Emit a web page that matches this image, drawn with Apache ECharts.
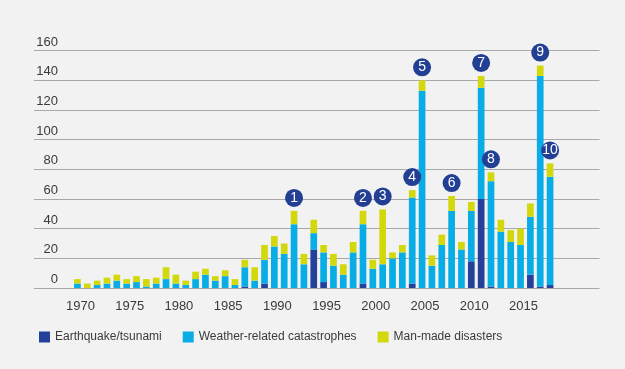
<!DOCTYPE html>
<html>
<head>
<meta charset="utf-8">
<script src="https://cdn.jsdelivr.net/npm/echarts@6/dist/echarts.min.js"></script>
<style>
html,body{margin:0;padding:0;background:#ffffff;}
#c{position:absolute;left:0;top:0;width:625px;height:369px;}
</style>
</head>
<body>
<div id="c"></div>
<script>
var years = [];
for (var y = 1970; y <= 2018; y++) years.push(String(y));

var quake = [0,0,0,0,0,0,0,0,0,0, 0,0,0,0,0,0,0,1,0,3, 0,0,0,0,26,4,0,0,0,3, 0,0,0,0,3,0,0,0,0,0, 18,60,1,0,0,0,9,1,2];
var weather = [3,0,2,3,5,3,4,1,3,6, 3,2,6,9,5,8,2,13,5,16, 28,23,43,16,11,20,15,9,24,40, 13,16,20,24,58,133,15,29,52,26, 34,75,71,38,31,29,39,142,73];
var manmade = [3,3,3,4,4,3,4,5,4,8, 6,3,5,4,3,4,4,5,9,10, 7,7,9,7,9,5,8,7,7,9, 6,37,4,5,5,7,7,7,10,5, 6,8,6,8,8,11,9,7,9];

var eventYears = ['1992','1999','2001','2004','2005','2008','2011','2012','2017','2018'];
var eventNumbers = ['1','2','3','4','5','6','7','8','9','10'];

var yTicks = [0,20,40,60,80,100,120,140,160];

var FONT = '"Liberation Sans", Arial, Helvetica, sans-serif';
var chart = echarts.init(document.getElementById('c'), null, {renderer:'canvas'});

var option = {
  backgroundColor: '#f2f2f2',
  animation: false,
  textStyle: {fontFamily: FONT},
  grid: [
    {left: 72.5, right: 70, top: 50.7, bottom: 81},
    {left: 34, right: 25.5, top: 50.7, bottom: 81}
  ],
  legend: {
    left: 34, top: 326,
    itemWidth: 11, itemHeight: 11, itemGap: 21,
    icon: 'rect',
    textStyle: {fontSize: 12, color: '#3a3a3a', fontFamily: FONT},
    data: ['Earthquake/tsunami','Weather-related catastrophes','Man-made disasters']
  },
  xAxis: [
    {
      type: 'category', gridIndex: 0, data: years,
      axisLine: {show: false}, axisTick: {show: false},
      axisLabel: {
        interval: function (i, v) { return Number(v) % 5 === 0; },
        margin: 12, fontSize: 13, color: '#3a3a3a', fontFamily: FONT,
        padding: [0,0,0,6]
      },
      splitLine: {show: false}
    },
    {
      type: 'value', gridIndex: 1, min: 0, max: 1, show: false
    }
  ],
  yAxis: [
    {type: 'value', gridIndex: 0, min: yTicks[0], max: yTicks[yTicks.length-1], interval: 20, show: false},
    {
      type: 'value', gridIndex: 1, min: yTicks[0], max: yTicks[yTicks.length-1], interval: 20,
      axisLine: {show: false}, axisTick: {show: false},
      splitLine: {show: true, lineStyle: {color: '#a8a8a8', width: 1.2}},
      axisLabel: {
        inside: true, margin: 24, align: 'right', verticalAlign: 'bottom',
        padding: [0,0,2,0], fontSize: 13, color: '#3a3a3a', fontFamily: FONT
      }
    }
  ],
  series: [
    {
      name: 'Earthquake/tsunami', type: 'bar', stack: 'tot', xAxisIndex: 0, yAxisIndex: 0,
      barWidth: '68%', data: quake, itemStyle: {color: '#23409a'}, z: 3
    },
    {
      name: 'Weather-related catastrophes', type: 'bar', stack: 'tot', xAxisIndex: 0, yAxisIndex: 0,
      barWidth: '68%', data: weather, itemStyle: {color: '#08ade6'}, z: 3
    },
    {
      name: 'Man-made disasters', type: 'bar', stack: 'tot', xAxisIndex: 0, yAxisIndex: 0,
      barWidth: '68%', data: manmade, itemStyle: {color: '#d3d80c'}, z: 3,
      label: {
        show: true, position: 'top', distance: 4,
        formatter: function (p) {
          var k = eventYears.indexOf(p.name);
          return k >= 0 ? '{c|' + eventNumbers[k] + '}' : '';
        },
        rich: {
          c: {
            backgroundColor: '#233f94', borderRadius: 9,
            width: 18, height: 18, lineHeight: 18, align: 'center',
            color: '#ffffff', fontSize: 14, fontFamily: FONT
          }
        }
      }
    }
  ]
};
chart.setOption(option);
</script>
</body>
</html>
